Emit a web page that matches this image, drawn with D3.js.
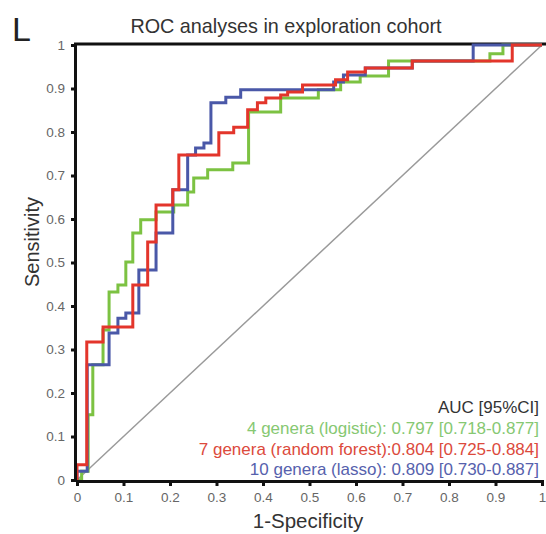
<!DOCTYPE html>
<html>
<head>
<meta charset="utf-8">
<script src="https://cdn.jsdelivr.net/npm/d3@7"></script>
<style>
  body { margin: 0; background: #fff; }
  svg { font-family: "Liberation Sans", Arial, sans-serif; }
</style>
</head>
<body>
<div id="chart"></div>
<script>
// ROC step points: [1-specificity, sensitivity] after each rise
let logistic = [[0,0],[0.01,0.02],[0.024,0.15],[0.034,0.265],[0.056,0.345],[0.069,0.432],[0.088,0.448],
    [0.105,0.501],[0.12,0.568],[0.137,0.598],[0.17,0.616],[0.208,0.632],[0.238,0.662],[0.251,0.694],
    [0.281,0.713],[0.335,0.729],[0.369,0.846],[0.438,0.878],[0.519,0.897],[0.567,0.915],[0.609,0.929],
    [0.67,0.963],[0.888,0.98],[0.916,1],[1,1]];
let forest = [[0,0],[0,0.035],[0.021,0.317],[0.056,0.352],[0.12,0.448],[0.152,0.547],[0.17,0.632],
    [0.206,0.667],[0.219,0.747],[0.305,0.798],[0.337,0.811],[0.367,0.851],[0.388,0.867],[0.406,0.878],
    [0.438,0.885],[0.453,0.892],[0.485,0.908],[0.556,0.92],[0.582,0.938],[0.62,0.947],[0.721,0.963],
    [0.936,1],[1,1]];
let lasso = [[0,0],[0,0.02],[0.022,0.265],[0.069,0.338],[0.088,0.372],[0.105,0.384],[0.133,0.483],
    [0.17,0.568],[0.206,0.667],[0.238,0.747],[0.255,0.763],[0.273,0.775],[0.288,0.867],[0.32,0.88],
    [0.352,0.897],[0.552,0.915],[0.573,0.931],[0.62,0.947],[0.721,0.963],[0.852,1],[1,1]];

let seriesNames = ["4 genera (logistic): 0.797 [0.718-0.877]",
    "7 genera (random forest):0.804 [0.725-0.884]",
    "10 genera (lasso): 0.809 [0.730-0.887]"];
let lineColors = ["#7cc242", "#e3352b", "#4a58a8"];
let textColors = ["#86c872", "#dc4a3c", "#5661ad"];
let ticks = [0, 0.1, 0.2, 0.3, 0.4, 0.5, 0.6, 0.7, 0.8, 0.9, 1];

let width = 546, height = 534;

let svg = d3.select("#chart")
    .append("svg")
    .attr("width", width)
    .attr("height", height);

let x = d3.scaleLinear().domain([0, 1]).range([77, 542]);
let y = d3.scaleLinear().domain([0, 1]).range([480, 45]);

// panel letter and title
svg.append("text")
    .attr("x", 12).attr("y", 41)
    .style("font-size", "34px")
    .style("fill", "#222")
    .text("L");

svg.append("text")
    .attr("x", 286).attr("y", 33)
    .style("text-anchor", "middle")
    .style("font-size", "19.8px")
    .style("fill", "#333")
    .text("ROC analyses in exploration cohort");

// top frame line
svg.append("line")
    .attr("x1", 74).attr("x2", width)
    .attr("y1", y(1) - 1).attr("y2", y(1) - 1)
    .attr("stroke", "#111").attr("stroke-width", 3);

// diagonal reference
svg.append("line")
    .attr("x1", x(0)).attr("y1", y(0))
    .attr("x2", x(1)).attr("y2", y(1))
    .attr("stroke", "#9a9a9a").attr("stroke-width", 1.5);

let line = d3.line()
    .x(function (d) { return x(d[0]); })
    .y(function (d) { return y(d[1]); })
    .curve(d3.curveStepAfter);

[logistic, lasso, forest].forEach(function (data, i) {
    let c = [0, 2, 1][i];
    svg.append("path")
        .datum(data)
        .attr("fill", "none")
        .attr("stroke", lineColors[c])
        .attr("stroke-width", 3)
        .attr("d", line);
});

// axes
let xAxis = svg.append("g")
    .attr("transform", `translate(0,${y(0) + 1})`)
    .call(d3.axisBottom(x).tickValues(ticks).tickFormat(d3.format("")).tickSize(5).tickPadding(6));
let yAxis = svg.append("g")
    .attr("transform", `translate(${x(0) - 2},0)`)
    .call(d3.axisLeft(y).tickValues(ticks).tickFormat(d3.format("")).tickSize(4).tickPadding(6));

[xAxis, yAxis].forEach(function (ax) {
    ax.select(".domain").attr("stroke", "#111").attr("stroke-width", 3);
    ax.selectAll(".tick line").attr("stroke", "#111").attr("stroke-width", 3);
    ax.selectAll(".tick text")
        .style("font-size", "13.5px")
        .style("fill", "#666")
        .style("font-family", "Liberation Sans, Arial, sans-serif");
});

// axis labels
svg.append("text")
    .attr("x", 308).attr("y", 528)
    .style("text-anchor", "middle")
    .style("font-size", "20.5px")
    .style("fill", "#333")
    .text("1-Specificity");

svg.append("text")
    .attr("transform", `translate(39,242)rotate(-90)`)
    .style("text-anchor", "middle")
    .style("font-size", "20px")
    .style("fill", "#333")
    .text("Sensitivity");

// legend
svg.append("text")
    .attr("x", 539).attr("y", 413)
    .style("text-anchor", "end")
    .style("font-size", "17px")
    .style("fill", "#333")
    .text("AUC [95%CI]");

seriesNames.forEach(function (name, i) {
    svg.append("text")
        .attr("x", 539).attr("y", 434 + i * 20.5)
        .style("text-anchor", "end")
        .style("font-size", "17px")
        .style("fill", textColors[i])
        .text(name);
});
</script>
</body>
</html>
